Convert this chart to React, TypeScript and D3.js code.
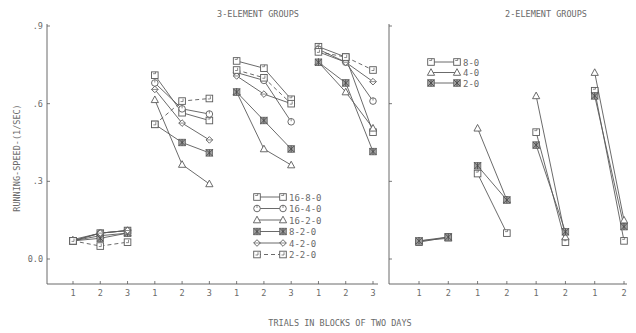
import * as d3 from 'd3';

// x categories
const leftTrials = ['1', '2', '3', '1', '2', '3', '1', '2', '3', '1', '2', '3'];
const rightTrials = ['1', '2', '1', '2', '1', '2', '1', '2'];
const yTicks = [0, 0.3, 0.6, 0.9];
const yTickLabels = ['0.0', '.3', '.6', '.9'];

// 3-element groups, 4 blocks of 3 trials
const g16_8_0 = [0.07, 0.1, 0.11, 0.71, 0.565, 0.535, 0.765, 0.737, 0.617, 0.82, 0.78, 0.49];
const g16_4_0 = [0.07, 0.1, 0.11, 0.68, 0.58, 0.56, 0.72, 0.69, 0.53, 0.81, 0.76, 0.61];
const g16_2_0 = [0.07, 0.09, 0.1, 0.615, 0.365, 0.29, 0.645, 0.425, 0.363, 0.76, 0.645, 0.505];
const g8_2_0 = [0.07, 0.08, 0.1, 0.52, 0.45, 0.41, 0.645, 0.535, 0.425, 0.76, 0.68, 0.415];
const g4_2_0 = [0.075, 0.1, 0.11, 0.655, 0.525, 0.46, 0.707, 0.637, 0.6, 0.8, 0.76, 0.685];
const g2_2_0 = [0.07, 0.05, 0.065, 0.52, 0.61, 0.62, 0.73, 0.7, 0.6, 0.8, 0.78, 0.73];

// 2-element groups, 4 blocks of 2 trials
const g8_0 = [0.065, 0.085, 0.33, 0.1, 0.49, 0.065, 0.65, 0.07];
const g4_0 = [0.07, 0.08, 0.505, 0.228, 0.63, 0.085, 0.72, 0.15];
const g2_0 = [0.07, 0.085, 0.36, 0.228, 0.44, 0.105, 0.63, 0.125];

const leftSeries = [
  {name: '16-8-0', values: g16_8_0, marker: 'sq', dash: false},
  {name: '16-4-0', values: g16_4_0, marker: 'circ', dash: false},
  {name: '16-2-0', values: g16_2_0, marker: 'tri', dash: false},
  {name: '8-2-0', values: g8_2_0, marker: 'star', dash: false},
  {name: '4-2-0', values: g4_2_0, marker: 'dia', dash: false},
  {name: '2-2-0', values: g2_2_0, marker: 'sq2', dash: true},
];
const rightSeries = [
  {name: '8-0', values: g8_0, marker: 'sq', dash: false},
  {name: '4-0', values: g4_0, marker: 'tri', dash: false},
  {name: '2-0', values: g2_0, marker: 'star', dash: false},
];

const ink = '#5a5a5a';
const txt = '#6a6a6a';
const font = '"DejaVu Sans Mono", monospace';

function Marker({type, x, y}: {type: string; x: number; y: number}) {
  const s = 3.3;
  const common = {stroke: ink, strokeWidth: 0.9, fill: '#fff'};
  if (type === 'sq' || type === 'sq2') {
    return (
      <g>
        <rect x={x - s} y={y - s} width={2 * s} height={2 * s} {...common} />
        {type === 'sq' ? (
          <path d={`M${x - s + 1.5},${y - 1.5}h2.5v-1.8`} stroke={ink} strokeWidth={0.7} fill="none" />
        ) : (
          <path d={`M${x + 1},${y - s + 1}v2.8h-2.5`} stroke={ink} strokeWidth={0.7} fill="none" />
        )}
      </g>
    );
  }
  if (type === 'circ') {
    return (
      <g>
        <circle cx={x} cy={y} r={s} {...common} />
        <path d={`M${x},${y - s}v2.8`} stroke={ink} strokeWidth={0.7} />
      </g>
    );
  }
  if (type === 'tri') {
    return <path d={`M${x},${y - s - 0.5}L${x + s + 0.3},${y + s - 0.5}L${x - s - 0.3},${y + s - 0.5}Z`} {...common} />;
  }
  if (type === 'star') {
    return (
      <g>
        <rect x={x - s} y={y - s} width={2 * s} height={2 * s} fill="#a0a0a0" stroke={ink} strokeWidth={0.7} />
        <path d={`M${x - s},${y - s}L${x + s},${y + s}M${x + s},${y - s}L${x - s},${y + s}M${x},${y - s}V${y + s}`} stroke="#444" strokeWidth={0.8} />
      </g>
    );
  }
  // diamond
  return (
    <g>
      <path d={`M${x},${y - s}L${x + s},${y}L${x},${y + s}L${x - s},${y}Z`} {...common} />
      <path d={`M${x - s},${y}H${x + s}`} stroke={ink} strokeWidth={0.7} />
    </g>
  );
}

function Panel({
  series,
  trials,
  blockSize,
  x0,
  x1,
  xr,
  showYLabels,
}: {
  series: typeof leftSeries;
  trials: string[];
  blockSize: number;
  x0: number;
  x1: number;
  xr: [number, number];
  showYLabels: boolean;
}) {
  const y = d3.scaleLinear().domain([0, 0.9]).range([259, 26]);
  const x = d3.scaleLinear().domain([0, trials.length - 1]).range(xr);
  const yBottom = 284;
  const yTop = 24;
  const nBlocks = trials.length / blockSize;
  const blocks = d3.range(nBlocks);

  return (
    <g>
      <line x1={x0} x2={x0} y1={yTop} y2={yBottom} stroke={ink} strokeWidth={0.9} />
      <line x1={x0} x2={x1} y1={yBottom} y2={yBottom} stroke={ink} strokeWidth={0.9} />
      {yTicks.map((t, i) => (
        <g key={i}>
          <line x1={x0} x2={x0 + 3} y1={y(t)} y2={y(t)} stroke={ink} strokeWidth={0.8} />
          {showYLabels && (
            <text x={x0 - 4} y={y(t) + 3} textAnchor="end" fontSize={8.5} fill={txt} fontFamily={font}>
              {yTickLabels[i]}
            </text>
          )}
        </g>
      ))}
      {trials.map((t, i) => (
        <g key={i}>
          <line x1={x(i)} x2={x(i)} y1={yBottom} y2={yBottom - 3} stroke={ink} strokeWidth={0.8} />
          <text x={x(i)} y={yBottom + 12} textAnchor="middle" fontSize={8.5} fill={txt} fontFamily={font}>
            {t}
          </text>
        </g>
      ))}
      {series.map((s) =>
        blocks.map((b) => {
          const idx = d3.range(b * blockSize, (b + 1) * blockSize);
          const l = d3
            .line<number>()
            .x((i) => x(i))
            .y((i) => y(s.values[i]));
          return (
            <path
              key={s.name + b}
              d={l(idx) || ''}
              fill="none"
              stroke={ink}
              strokeWidth={0.9}
              strokeDasharray={s.dash ? '4,3' : undefined}
            />
          );
        })
      )}
      {series.map((s) =>
        s.values.map((v, i) => <Marker key={s.name + i} type={s.marker} x={x(i)} y={y(v)} />)
      )}
    </g>
  );
}

function Legend({series, x, y0, dy}: {series: typeof leftSeries; x: number; y0: number; dy: number}) {
  return (
    <g>
      {series.map((s, i) => {
        const yy = y0 + i * dy;
        return (
          <g key={s.name}>
            <line x1={x} x2={x + 26} y1={yy} y2={yy} stroke={ink} strokeWidth={0.9} strokeDasharray={s.dash ? '4,3' : undefined} />
            <Marker type={s.marker} x={x} y={yy} />
            <Marker type={s.marker} x={x + 26} y={yy} />
            <text x={x + 32} y={yy + 3.5} fontSize={9} fill={txt} fontFamily={font}>
              {s.name}
            </text>
          </g>
        );
      })}
    </g>
  );
}

export default function App() {
  return (
    <svg width={636} height={333} style={{position: 'absolute', left: 0, top: 0, background: '#fff'}}>
      <rect width={636} height={333} fill="#fff" />
      <text x={258} y={17} textAnchor="middle" fontSize={8.5} fill={txt} fontFamily={font}>
        3-ELEMENT GROUPS
      </text>
      <text x={546} y={17} textAnchor="middle" fontSize={8.5} fill={txt} fontFamily={font}>
        2-ELEMENT GROUPS
      </text>
      <text
        transform="translate(20,158) rotate(-90)"
        textAnchor="middle"
        fontSize={8.5}
        fill={txt}
        fontFamily={font}
      >
        RUNNING-SPEED-(1/SEC)
      </text>
      <text x={340} y={326} textAnchor="middle" fontSize={8.5} fill={txt} fontFamily={font}>
        TRIALS IN BLOCKS OF TWO DAYS
      </text>
      <Panel series={leftSeries} trials={leftTrials} blockSize={3} x0={47} x1={378} xr={[73, 373]} showYLabels={true} />
      <Panel series={rightSeries} trials={rightTrials} blockSize={2} x0={389} x1={627} xr={[419, 624]} showYLabels={false} />
      <Legend series={leftSeries} x={257} y0={197} dy={11.5} />
      <Legend series={rightSeries} x={431} y0={62} dy={10.5} />
    </svg>
  );
}
